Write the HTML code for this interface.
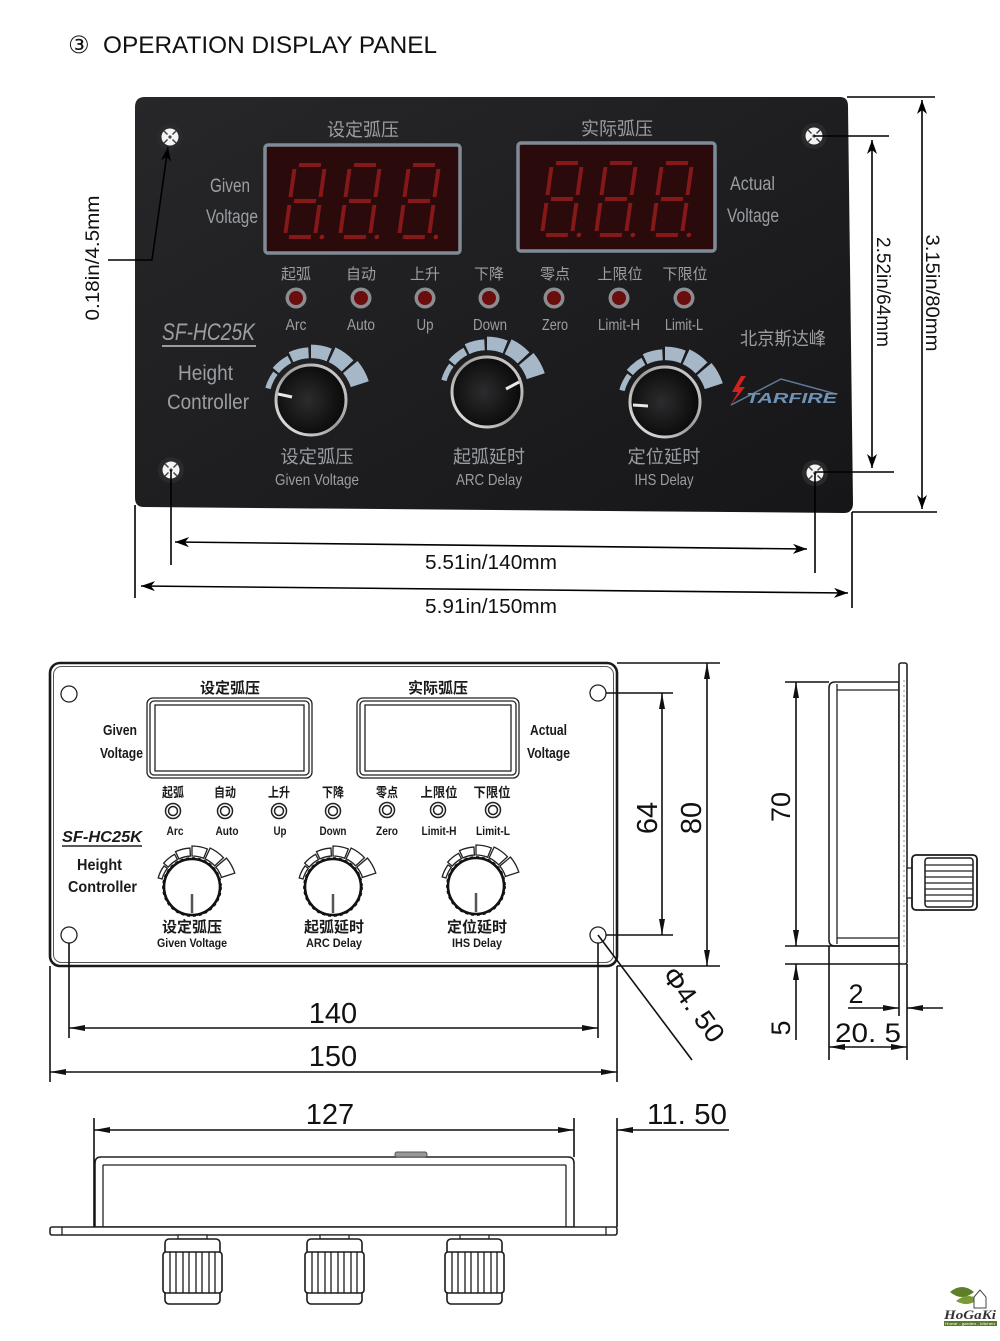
<!DOCTYPE html>
<html><head><meta charset="utf-8"><style>
html,body{margin:0;padding:0;background:#fff;}
svg{display:block;}
.f{font-family:"Liberation Sans","Noto Sans CJK SC",sans-serif;}
.pg{fill:#9a9ea3;font-family:"Liberation Sans","Noto Sans CJK SC",sans-serif;}
.tb{fill:#1a1a1a;font-family:"Liberation Sans","Noto Sans CJK SC",sans-serif;font-weight:bold;}
.dm{fill:#111;font-family:"Liberation Sans",sans-serif;}
.ln{stroke:#222;stroke-width:1.3;fill:none;}
.dl{stroke:#111;stroke-width:1.6;fill:none;}
</style></head><body>
<svg width="1000" height="1341" viewBox="0 0 1000 1341" xmlns="http://www.w3.org/2000/svg">
<defs>
  <linearGradient id="pan" x1="0" y1="0" x2="1" y2="1">
    <stop offset="0" stop-color="#27272a"/><stop offset="1" stop-color="#161618"/>
  </linearGradient>
  <radialGradient id="knobg" cx="0.45" cy="0.5" r="0.6">
    <stop offset="0" stop-color="#2c2c2e"/><stop offset="1" stop-color="#060606"/>
  </radialGradient>
  <linearGradient id="rim" x1="0" y1="1" x2="1" y2="0">
    <stop offset="0" stop-color="#f0f0f0"/><stop offset="0.5" stop-color="#9a9a9a"/><stop offset="1" stop-color="#d8d8d8"/>
  </linearGradient>
  <marker id="a1" viewBox="0 0 14 10" refX="14" refY="5" markerWidth="14" markerHeight="10" markerUnits="userSpaceOnUse" orient="auto-start-reverse">
    <path d="M0,0 L14,5 L0,10 L4,5 Z" fill="#000"/>
  </marker>
  <marker id="a2" viewBox="0 0 16 6" refX="16" refY="3" markerWidth="16" markerHeight="6" markerUnits="userSpaceOnUse" orient="auto-start-reverse">
    <path d="M0,0 L16,3 L0,6 Z" fill="#111"/>
  </marker>
  <g id="seg">
    <path d="M-29.94,-8.02 L-33.81,-9.06 A35,35 0 0 1 -27.95,-21.06 L-24.76,-18.66 A31,31 0 0 0 -29.94,-8.02Z"/>
    <path d="M-23.75,-19.93 L-28.34,-23.78 A37,37 0 0 1 -17.37,-32.67 L-14.55,-27.37 A31,31 0 0 0 -23.75,-19.93Z"/>
    <path d="M-13.10,-28.10 L-16.48,-35.35 A39,39 0 0 1 -2.04,-38.95 L-1.62,-30.96 A31,31 0 0 0 -13.10,-28.10Z"/>
    <path d="M0,-31 L0,-41 A41,41 0 0 1 15.36,-38.02 L11.61,-28.74 A31,31 0 0 0 0,-31Z"/>
    <path d="M13.10,-28.10 L18.17,-38.97 A43,43 0 0 1 31.45,-29.33 L22.67,-21.14 A31,31 0 0 0 13.10,-28.10Z"/>
    <path d="M23.75,-19.93 L34.47,-28.93 A45,45 0 0 1 42.80,-13.91 L29.48,-9.58 A31,31 0 0 0 23.75,-19.93Z"/>
  </g>
  <g id="hole">
    <circle r="13" fill="#2a2a2c"/>
    <circle r="8.5" fill="#f4f4f4"/>
    <path d="M-6,-6 L-2.5,-2.5 M6,-6 L2.5,-2.5 M-6,6 L-2.5,2.5 M6,6 L2.5,2.5" stroke="#444" stroke-width="1.5"/>
    <circle r="1.6" fill="#444"/>
  </g>
  <g id="dig" fill="none" stroke="#8f1a1a" stroke-width="4" stroke-opacity="0.9" transform="skewX(-8)">
    <path d="M4,0 H26 M4,36 H26 M4,72 H26 M0,4 V32 M0,40 V68 M30,4 V32 M30,40 V68"/>
    <circle cx="37" cy="72" r="2.3" fill="#8f1a1a" stroke="none"/>
  </g>
  <g id="led">
    <circle r="10.5" fill="#8a8c90"/>
    <circle r="7" fill="#6c0d0d"/>
  </g>
  <g id="tled" fill="none" stroke="#222" stroke-width="1.5">
    <circle r="7.5"/><circle r="4.5"/>
  </g>
  <g id="tknob">
    <use href="#seg" fill="#fff" stroke="#222" stroke-width="1.3"/>
    <circle r="28" fill="#fff" stroke="#111" stroke-width="2.6"/>
    <circle r="29.3" fill="none" stroke="#111" stroke-width="1.2" stroke-dasharray="3 3"/>
    <line x1="0" y1="7" x2="0" y2="26" stroke="#555" stroke-width="2.5"/>
  </g>
  <g id="bknob" fill="#fff" stroke="#1a1a1a" stroke-width="1.6">
    <rect x="13" y="-4" width="29" height="4" stroke-width="1.2"/>
    <rect x="0" y="0" width="55" height="65" rx="4"/>
    <rect x="-2" y="13" width="59" height="41" rx="3"/>
    <path d="M5,13 V54 M11,13 V54 M18,13 V54 M24,13 V54 M31,13 V54 M37,13 V54 M44,13 V54 M50,13 V54" stroke-width="1.3"/>
  </g>
</defs>

<!-- Title -->
<text x="68" y="53" font-size="24" font-family="'DejaVu Sans',sans-serif" fill="#111">③</text>
<text x="103" y="53" font-size="24" class="f" fill="#111" textLength="334" lengthAdjust="spacingAndGlyphs">OPERATION DISPLAY PANEL</text>

<!-- ===== Photo panel ===== -->
<path d="M145,97 L840,97 Q848,97 848,106 L853,503 Q853,513 844,513 L144,507 Q135,507 135,498 L135,107 Q135,97 145,97 Z" fill="url(#pan)"/>

<use href="#hole" x="170" y="137"/>
<use href="#hole" x="814" y="136"/>
<use href="#hole" x="171" y="470"/>
<use href="#hole" x="815" y="473"/>

<!-- displays -->
<text x="363" y="136" class="pg" font-size="18" text-anchor="middle" textLength="72" lengthAdjust="spacingAndGlyphs">设定弧压</text>
<text x="617" y="135" class="pg" font-size="18" text-anchor="middle" textLength="72" lengthAdjust="spacingAndGlyphs">实际弧压</text>
<rect x="265" y="145" width="195" height="108" rx="3" fill="#2a0a0b" stroke="#7f8b96" stroke-width="3.5"/>
<rect x="518" y="143" width="197" height="108" rx="3" fill="#2a0a0b" stroke="#7f8b96" stroke-width="3.5"/>
<use href="#dig" x="295" y="165"/>
<use href="#dig" x="350" y="165"/>
<use href="#dig" x="409" y="165"/>
<use href="#dig" x="552" y="163"/>
<use href="#dig" x="606" y="163"/>
<use href="#dig" x="662" y="163"/>

<text x="210" y="192" class="pg" font-size="19" textLength="40" lengthAdjust="spacingAndGlyphs">Given</text>
<text x="206" y="223" class="pg" font-size="19" textLength="52" lengthAdjust="spacingAndGlyphs">Voltage</text>
<text x="730" y="190" class="pg" font-size="19" textLength="45" lengthAdjust="spacingAndGlyphs">Actual</text>
<text x="727" y="222" class="pg" font-size="19" textLength="52" lengthAdjust="spacingAndGlyphs">Voltage</text>

<!-- LEDs -->
<g class="pg" font-size="15" text-anchor="middle">
  <text x="296" y="279" textLength="30" lengthAdjust="spacingAndGlyphs">起弧</text>
  <text x="361" y="279" textLength="30" lengthAdjust="spacingAndGlyphs">自动</text>
  <text x="425" y="279" textLength="30" lengthAdjust="spacingAndGlyphs">上升</text>
  <text x="489" y="279" textLength="30" lengthAdjust="spacingAndGlyphs">下降</text>
  <text x="555" y="279" textLength="30" lengthAdjust="spacingAndGlyphs">零点</text>
  <text x="620" y="279" textLength="45" lengthAdjust="spacingAndGlyphs">上限位</text>
  <text x="685" y="279" textLength="45" lengthAdjust="spacingAndGlyphs">下限位</text>
</g>
<use href="#led" x="296" y="298"/>
<use href="#led" x="361" y="298"/>
<use href="#led" x="425" y="298"/>
<use href="#led" x="489" y="298"/>
<use href="#led" x="554" y="298"/>
<use href="#led" x="619" y="298"/>
<use href="#led" x="684" y="298"/>
<g class="pg" font-size="16" text-anchor="middle">
  <text x="296" y="330" textLength="21" lengthAdjust="spacingAndGlyphs">Arc</text>
  <text x="361" y="330" textLength="28" lengthAdjust="spacingAndGlyphs">Auto</text>
  <text x="425" y="330" textLength="17" lengthAdjust="spacingAndGlyphs">Up</text>
  <text x="490" y="330" textLength="34" lengthAdjust="spacingAndGlyphs">Down</text>
  <text x="555" y="330" textLength="26" lengthAdjust="spacingAndGlyphs">Zero</text>
  <text x="619" y="330" textLength="42" lengthAdjust="spacingAndGlyphs">Limit-H</text>
  <text x="684" y="330" textLength="38" lengthAdjust="spacingAndGlyphs">Limit-L</text>
</g>

<!-- model -->
<text x="162" y="340" class="pg" font-size="24" font-style="italic" textLength="93" lengthAdjust="spacingAndGlyphs">SF-HC25K</text>
<line x1="162" y1="346" x2="256" y2="346" stroke="#9a9ea3" stroke-width="2"/>
<text x="178" y="380" class="pg" font-size="21" textLength="55" lengthAdjust="spacingAndGlyphs">Height</text>
<text x="167" y="409" class="pg" font-size="21" textLength="82" lengthAdjust="spacingAndGlyphs">Controller</text>

<text x="740" y="345" class="pg" font-size="18" textLength="86" lengthAdjust="spacingAndGlyphs">北京斯达峰</text>
<!-- STARFIRE logo -->
<path d="M731,405 L781,379 L836,394" fill="none" stroke="#5c7a98" stroke-width="1.5"/>
<path d="M741,376 L732,392 L738,392 L730,406 L745,387 L739,387 L746,376 Z" fill="#d42020"/>
<text x="746" y="403" font-size="15" font-weight="bold" font-style="italic" class="f" fill="#6f93b6" textLength="91" lengthAdjust="spacingAndGlyphs">TARFIRE</text>

<!-- knobs -->
<g transform="translate(311,400)">
  <use href="#seg" transform="scale(1.35)" fill="#a6b8c7"/>
  <circle r="35" fill="url(#knobg)" stroke="url(#rim)" stroke-width="3"/>
  <line x1="-33" y1="-6" x2="-19" y2="-3" stroke="#e8e8e8" stroke-width="3"/>
</g>
<g transform="translate(487,392)">
  <use href="#seg" transform="scale(1.35)" fill="#a6b8c7"/>
  <circle r="35" fill="url(#knobg)" stroke="url(#rim)" stroke-width="3"/>
  <line x1="32" y1="-10" x2="19" y2="-3" stroke="#e8e8e8" stroke-width="3"/>
</g>
<g transform="translate(665,402)">
  <use href="#seg" transform="scale(1.35)" fill="#a6b8c7"/>
  <circle r="35" fill="url(#knobg)" stroke="url(#rim)" stroke-width="3"/>
  <line x1="-32" y1="3" x2="-17" y2="4" stroke="#e8e8e8" stroke-width="3"/>
</g>
<g class="pg" font-size="18" text-anchor="middle">
  <text x="317" y="463" textLength="73" lengthAdjust="spacingAndGlyphs">设定弧压</text>
  <text x="489" y="463" textLength="72" lengthAdjust="spacingAndGlyphs">起弧延时</text>
  <text x="664" y="463" textLength="73" lengthAdjust="spacingAndGlyphs">定位延时</text>
</g>
<g class="pg" font-size="16" text-anchor="middle">
  <text x="317" y="485" textLength="84" lengthAdjust="spacingAndGlyphs">Given Voltage</text>
  <text x="489" y="485" textLength="66" lengthAdjust="spacingAndGlyphs">ARC Delay</text>
  <text x="664" y="485" textLength="59" lengthAdjust="spacingAndGlyphs">IHS Delay</text>
</g>

<!-- photo dimensions -->
<g stroke="#000" stroke-width="1.6" fill="none">
  <polyline points="108,260 152,260 168,147" marker-end="url(#a1)"/>
  <line x1="847" y1="97" x2="935" y2="97"/>
  <line x1="814" y1="136" x2="889" y2="136"/>
  <line x1="815" y1="472" x2="894" y2="472"/>
  <line x1="852" y1="512" x2="937" y2="512"/>
  <line x1="872" y1="140" x2="872" y2="468" marker-start="url(#a1)" marker-end="url(#a1)"/>
  <line x1="922" y1="100" x2="922" y2="509" marker-start="url(#a1)" marker-end="url(#a1)"/>
  <line x1="135" y1="505" x2="135" y2="598"/>
  <line x1="171" y1="470" x2="171" y2="565"/>
  <line x1="815" y1="473" x2="815" y2="573"/>
  <line x1="852" y1="512" x2="852" y2="608"/>
  <line x1="175" y1="542" x2="807" y2="549" marker-start="url(#a1)" marker-end="url(#a1)"/>
  <line x1="141" y1="586" x2="848" y2="593" marker-start="url(#a1)" marker-end="url(#a1)"/>
</g>
<text transform="translate(99,258) rotate(-90)" class="dm" font-size="19" text-anchor="middle" textLength="125" lengthAdjust="spacingAndGlyphs">0.18in/4.5mm</text>
<text transform="translate(877,292) rotate(90)" class="dm" font-size="19" text-anchor="middle" textLength="110" lengthAdjust="spacingAndGlyphs">2.52in/64mm</text>
<text transform="translate(926,293) rotate(90)" class="dm" font-size="19" text-anchor="middle" textLength="117" lengthAdjust="spacingAndGlyphs">3.15in/80mm</text>
<text x="491" y="569" class="dm" font-size="20" text-anchor="middle" textLength="132" lengthAdjust="spacingAndGlyphs">5.51in/140mm</text>
<text x="491" y="613" class="dm" font-size="20" text-anchor="middle" textLength="132" lengthAdjust="spacingAndGlyphs">5.91in/150mm</text>

<!-- ===== Technical front view ===== -->
<rect x="50" y="663" width="567" height="303" rx="10" fill="none" stroke="#1a1a1a" stroke-width="2.6"/>
<rect x="53.5" y="666.5" width="560" height="296" rx="8" fill="none" stroke="#555" stroke-width="1"/>
<g class="ln" stroke-width="1.8">
  <circle cx="69" cy="694" r="8"/>
  <circle cx="598" cy="693" r="8"/>
  <circle cx="69" cy="935" r="8"/>
  <circle cx="598" cy="935" r="8"/>
</g>
<!-- displays -->
<g class="ln" stroke-width="1.5">
  <rect x="147" y="698" width="165" height="80" rx="6"/>
  <rect x="150" y="701" width="159" height="74" rx="4"/>
  <rect x="155" y="705" width="149" height="66"/>
  <rect x="357" y="698" width="162" height="80" rx="6"/>
  <rect x="360" y="701" width="156" height="74" rx="4"/>
  <rect x="365" y="705" width="146" height="66"/>
</g>
<text x="230" y="693" class="tb" font-size="15" text-anchor="middle" textLength="60" lengthAdjust="spacingAndGlyphs">设定弧压</text>
<text x="438" y="693" class="tb" font-size="15" text-anchor="middle" textLength="60" lengthAdjust="spacingAndGlyphs">实际弧压</text>
<text x="103" y="735" class="tb" font-size="15" textLength="34" lengthAdjust="spacingAndGlyphs">Given</text>
<text x="100" y="758" class="tb" font-size="15" textLength="43" lengthAdjust="spacingAndGlyphs">Voltage</text>
<text x="530" y="735" class="tb" font-size="15" textLength="37" lengthAdjust="spacingAndGlyphs">Actual</text>
<text x="527" y="758" class="tb" font-size="15" textLength="43" lengthAdjust="spacingAndGlyphs">Voltage</text>

<g class="tb" font-size="13" text-anchor="middle">
  <text x="173" y="797" textLength="22" lengthAdjust="spacingAndGlyphs">起弧</text>
  <text x="225" y="797" textLength="22" lengthAdjust="spacingAndGlyphs">自动</text>
  <text x="279" y="797" textLength="22" lengthAdjust="spacingAndGlyphs">上升</text>
  <text x="333" y="797" textLength="22" lengthAdjust="spacingAndGlyphs">下降</text>
  <text x="387" y="797" textLength="22" lengthAdjust="spacingAndGlyphs">零点</text>
  <text x="439" y="797" textLength="37" lengthAdjust="spacingAndGlyphs">上限位</text>
  <text x="492" y="797" textLength="37" lengthAdjust="spacingAndGlyphs">下限位</text>
</g>
<use href="#tled" x="173" y="811"/>
<use href="#tled" x="225" y="811"/>
<use href="#tled" x="279" y="811"/>
<use href="#tled" x="333" y="811"/>
<use href="#tled" x="387" y="810"/>
<use href="#tled" x="438" y="810"/>
<use href="#tled" x="493" y="810"/>
<g class="tb" font-size="12" text-anchor="middle">
  <text x="175" y="835" textLength="17" lengthAdjust="spacingAndGlyphs">Arc</text>
  <text x="227" y="835" textLength="23" lengthAdjust="spacingAndGlyphs">Auto</text>
  <text x="280" y="835" textLength="13" lengthAdjust="spacingAndGlyphs">Up</text>
  <text x="333" y="835" textLength="27" lengthAdjust="spacingAndGlyphs">Down</text>
  <text x="387" y="835" textLength="22" lengthAdjust="spacingAndGlyphs">Zero</text>
  <text x="439" y="835" textLength="35" lengthAdjust="spacingAndGlyphs">Limit-H</text>
  <text x="493" y="835" textLength="34" lengthAdjust="spacingAndGlyphs">Limit-L</text>
</g>
<text x="62" y="842" class="tb" font-size="16" font-style="italic" textLength="80" lengthAdjust="spacingAndGlyphs">SF-HC25K</text>
<line x1="62" y1="846" x2="142" y2="846" stroke="#222" stroke-width="1.5"/>
<text x="77" y="870" class="tb" font-size="16" textLength="45" lengthAdjust="spacingAndGlyphs">Height</text>
<text x="68" y="892" class="tb" font-size="16" textLength="69" lengthAdjust="spacingAndGlyphs">Controller</text>

<use href="#tknob" x="192" y="887"/>
<use href="#tknob" x="333" y="887"/>
<use href="#tknob" x="476" y="886"/>
<g class="tb" font-size="15" text-anchor="middle">
  <text x="192" y="932" textLength="60" lengthAdjust="spacingAndGlyphs">设定弧压</text>
  <text x="334" y="932" textLength="60" lengthAdjust="spacingAndGlyphs">起弧延时</text>
  <text x="477" y="932" textLength="60" lengthAdjust="spacingAndGlyphs">定位延时</text>
</g>
<g class="tb" font-size="12" text-anchor="middle">
  <text x="192" y="947" textLength="70" lengthAdjust="spacingAndGlyphs">Given Voltage</text>
  <text x="334" y="947" textLength="56" lengthAdjust="spacingAndGlyphs">ARC Delay</text>
  <text x="477" y="947" textLength="50" lengthAdjust="spacingAndGlyphs">IHS Delay</text>
</g>

<!-- front dims -->
<g class="dl">
  <line x1="606" y1="693" x2="673" y2="693"/>
  <line x1="606" y1="935" x2="673" y2="935"/>
  <line x1="662" y1="693" x2="662" y2="935" marker-start="url(#a2)" marker-end="url(#a2)"/>
  <line x1="617" y1="663" x2="720" y2="663"/>
  <line x1="617" y1="966" x2="720" y2="966"/>
  <line x1="707" y1="663" x2="707" y2="966" marker-start="url(#a2)" marker-end="url(#a2)"/>
  <line x1="598" y1="935" x2="692" y2="1060"/>
  <line x1="69" y1="943" x2="69" y2="1038"/>
  <line x1="598" y1="943" x2="598" y2="1038"/>
  <line x1="69" y1="1028" x2="598" y2="1028" marker-start="url(#a2)" marker-end="url(#a2)"/>
  <line x1="50" y1="966" x2="50" y2="1082"/>
  <line x1="617" y1="966" x2="617" y2="1082"/>
  <line x1="50" y1="1072" x2="617" y2="1072" marker-start="url(#a2)" marker-end="url(#a2)"/>
</g>
<text transform="translate(657,818) rotate(-90)" class="dm" font-size="29" text-anchor="middle">64</text>
<text transform="translate(701,818) rotate(-90)" class="dm" font-size="29" text-anchor="middle">80</text>
<text transform="translate(686,1010) rotate(54)" class="dm" font-size="27" text-anchor="middle" textLength="86" lengthAdjust="spacingAndGlyphs">Φ4. 50</text>
<text x="333" y="1023" class="dm" font-size="29" text-anchor="middle">140</text>
<text x="333" y="1066" class="dm" font-size="29" text-anchor="middle">150</text>

<!-- ===== Side view ===== -->
<path d="M835,682 H899 V946 H835 Q829,946 829,940 V688 Q829,682 835,682 Z" fill="#fff" stroke="#222" stroke-width="1.6"/>
<g class="ln" stroke-width="1.4">
  <line x1="837" y1="684" x2="837" y2="944"/>
  <line x1="837" y1="690" x2="899" y2="690"/>
  <line x1="837" y1="938" x2="899" y2="938"/>
</g>
<rect x="899" y="663" width="8" height="301" rx="2" fill="#fff" stroke="#222" stroke-width="1.6"/>
<line x1="904" y1="680" x2="904" y2="950" stroke="#777" stroke-width="0.8" stroke-dasharray="2 3"/>
<rect x="907" y="868" width="6" height="30" fill="#fff" stroke="#222" stroke-width="1.3"/>
<rect x="912" y="855" width="65" height="55" rx="4" fill="#fff" stroke="#1a1a1a" stroke-width="1.8"/>
<rect x="925" y="858" width="48" height="49" rx="3" fill="#fff" stroke="#1a1a1a" stroke-width="1.5"/>
<path d="M925,865 H973 M925,871 H973 M925,877 H973 M925,883 H973 M925,889 H973 M925,895 H973 M925,901 H973" stroke="#222" stroke-width="1.3"/>
<g class="dl">
  <line x1="785" y1="682" x2="829" y2="682"/>
  <line x1="785" y1="946" x2="899" y2="946"/>
  <line x1="785" y1="964" x2="899" y2="964"/>
  <line x1="796" y1="682" x2="796" y2="946" marker-start="url(#a2)" marker-end="url(#a2)"/>
  <line x1="796" y1="1040" x2="796" y2="964" marker-end="url(#a2)"/>
  <line x1="829" y1="946" x2="829" y2="1060"/>
  <line x1="907" y1="964" x2="907" y2="1060"/>
  <line x1="899" y1="964" x2="899" y2="1016"/>
  <line x1="848" y1="1008" x2="899" y2="1008" marker-end="url(#a2)"/>
  <line x1="943" y1="1008" x2="907" y2="1008" marker-end="url(#a2)"/>
  <line x1="829" y1="1047" x2="907" y2="1047" marker-start="url(#a2)" marker-end="url(#a2)"/>
</g>
<text transform="translate(790,807) rotate(-90)" class="dm" font-size="27" text-anchor="middle">70</text>
<text transform="translate(790,1028) rotate(-90)" class="dm" font-size="27" text-anchor="middle">5</text>
<text x="856" y="1003" class="dm" font-size="27" text-anchor="middle">2</text>
<text x="868" y="1042" class="dm" font-size="27" text-anchor="middle" textLength="66" lengthAdjust="spacingAndGlyphs">20. 5</text>

<!-- ===== Bottom view ===== -->
<path d="M101,1157 H568 Q574,1157 574,1163 V1227 H95 V1163 Q95,1157 101,1157 Z" fill="#fff" stroke="#222" stroke-width="1.6"/>
<g class="ln" stroke-width="1.4">
  <line x1="103" y1="1165" x2="566" y2="1165"/>
  <line x1="103" y1="1165" x2="103" y2="1227"/>
  <line x1="566" y1="1165" x2="566" y2="1227"/>
</g>
<rect x="395" y="1152" width="32" height="5" rx="2" fill="#999" stroke="#555" stroke-width="1"/>
<rect x="50" y="1227" width="567" height="8" rx="2" fill="#fff" stroke="#222" stroke-width="1.6"/>
<line x1="62" y1="1227" x2="62" y2="1235" stroke="#222" stroke-width="1.3"/>
<line x1="606" y1="1227" x2="606" y2="1235" stroke="#222" stroke-width="1.3"/>
<use href="#bknob" x="165" y="1239"/>
<use href="#bknob" x="307" y="1239"/>
<use href="#bknob" x="447" y="1239"/>
<g class="dl">
  <line x1="94" y1="1118" x2="94" y2="1227"/>
  <line x1="94" y1="1130" x2="574" y2="1130" marker-start="url(#a2)" marker-end="url(#a2)"/>
  <line x1="574" y1="1118" x2="574" y2="1157"/>
  <line x1="617" y1="1118" x2="617" y2="1227"/>
  <line x1="729" y1="1130" x2="617" y2="1130" marker-end="url(#a2)"/>
</g>
<text x="330" y="1124" class="dm" font-size="29" text-anchor="middle">127</text>
<text x="647" y="1124" class="dm" font-size="29" textLength="80" lengthAdjust="spacingAndGlyphs">11. 50</text>

<!-- HoGaKi logo -->
<g transform="translate(950,1286)">
  <path d="M0,6 Q12,-4 24,6 Q12,16 0,6 Z" fill="#5d7f2a"/>
  <path d="M6,15 Q17,6 28,13 Q18,22 6,15 Z" fill="#7a9a3a"/>
  <path d="M24,11 L30,4 L36,11 V22 H24 Z" fill="#fff" stroke="#444" stroke-width="1"/>
</g>
<text x="944" y="1319" font-family="'Liberation Serif',serif" font-weight="bold" font-style="italic" font-size="13" fill="#333" textLength="52" lengthAdjust="spacingAndGlyphs">HoGaKi</text>
<rect x="944" y="1321" width="53" height="5" fill="#5a7a2a"/>
<text x="970" y="1325" class="f" font-size="4" fill="#fff" text-anchor="middle" textLength="50" lengthAdjust="spacingAndGlyphs">Home - garden - kitchen</text>
</svg>
</body></html>
